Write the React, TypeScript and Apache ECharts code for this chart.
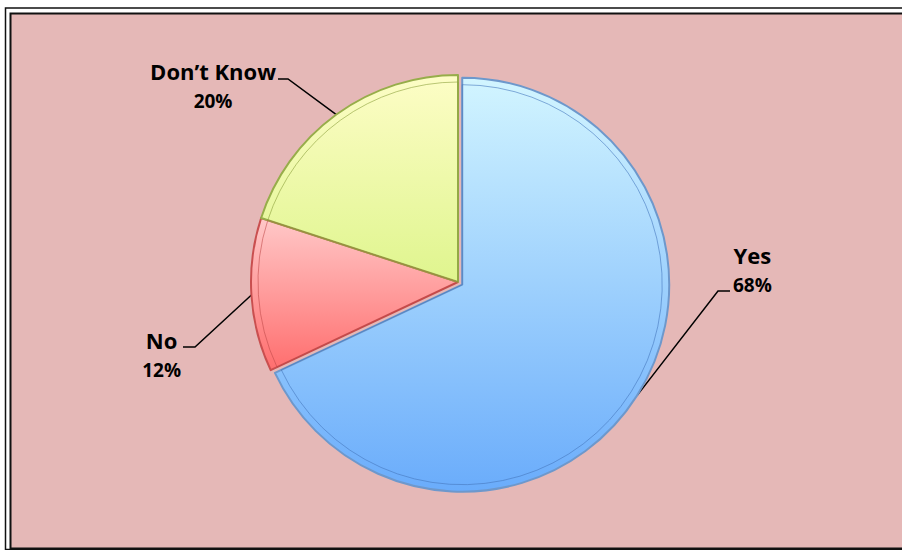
import React, { useEffect, useRef } from 'react';
import * as echarts from 'echarts';

// ---- data ----
const categories = ['Yes', 'No', 'Don’t Know'];
const values = [68, 12, 20];
const explodedCategory = 'Yes';

// ---- styles / layout ----
const FONT = '"Open Sans", "DejaVu Sans", sans-serif';
const CENTER: [number, number] = [458, 282];
const RADIUS = 207;
const EXPLODE = 5;
const START_ANGLE = 90;

const SLICE_STYLE: Record<string, { top: string; bottom: string; border: string; inner: string }> = {
  'Yes': { top: '#d2f5ff', bottom: '#6aacfb', border: '#6d98cc', inner: 'rgba(70,120,190,0.6)' },
  'No': { top: '#ffc8c8', bottom: '#ff6e6e', border: '#c94f4f', inner: 'rgba(190,70,70,0.55)' },
  'Don’t Know': { top: '#fdfdc6', bottom: '#dff58e', border: '#97ad4a', inner: 'rgba(140,160,60,0.6)' },
};

const LABEL_LAYOUT: Record<string, { x: number; y: number; align: string; bend: number[]; end: number[] }> = {
  'Yes': { x: 733, y: 240, align: 'left', bend: [718, 291], end: [730, 291] },
  'No': { x: 181, y: 325, align: 'right', bend: [195, 347], end: [183, 347] },
  'Don’t Know': { x: 276, y: 56, align: 'right', bend: [288, 79], end: [278, 79] },
};

export default function App() {
  const ref = useRef<HTMLDivElement>(null);

  useEffect(() => {
    if (!ref.current) return;
    const chart = echarts.init(ref.current, undefined, { renderer: 'svg' });

    // offset of the exploded slice, along its mid-angle (clockwise from START_ANGLE)
    const total = values.reduce((a, b) => a + b, 0);
    const exIdx = categories.indexOf(explodedCategory);
    const before = values.slice(0, exIdx).reduce((a, b) => a + b, 0);
    const midDeg = START_ANGLE - ((before + values[exIdx] / 2) / total) * 360;
    const midRad = (midDeg * Math.PI) / 180;
    const exCenter: [number, number] = [
      CENTER[0] + EXPLODE * Math.cos(midRad),
      CENTER[1] - EXPLODE * Math.sin(midRad),
    ];

    const textStyleName = {
      fontFamily: FONT,
      fontSize: 22,
      fontWeight: 'bold' as const,
      color: '#000',
      lineHeight: 30,
      align: 'center' as const,
    };
    const textStylePct = { ...textStyleName, fontSize: 19 };

    const hidden = {
      color: 'rgba(0,0,0,0)',
      borderWidth: 0,
    };

    const buildData = (visible: (name: string) => boolean, inner: boolean) =>
      categories.map((name, i) => {
        const s = SLICE_STYLE[name];
        const show = visible(name);
        return {
          name,
          value: values[i],
          itemStyle: !show
            ? hidden
            : inner
            ? { color: 'rgba(0,0,0,0)', borderColor: s.inner, borderWidth: 1 }
            : {
                color: new echarts.graphic.LinearGradient(0, 0, 0, 1, [
                  { offset: 0, color: s.top },
                  { offset: 1, color: s.bottom },
                ]),
                borderColor: s.border,
                borderWidth: 2,
              },
          label: { show: show && !inner },
          labelLine: { show: show && !inner },
        };
      });

    const pieSeries = (center: [number, number], radius: number, visible: (n: string) => boolean, inner: boolean) => ({
      type: 'pie',
      center,
      radius,
      startAngle: START_ANGLE,
      clockwise: true,
      silent: true,
      avoidLabelOverlap: false,
      data: buildData(visible, inner),
      label: {
        show: !inner,
        position: 'outside',
        formatter: (p: any) => `{n|${p.name}}\n{p|${Math.round(p.percent)}%}`,
        rich: { n: textStyleName, p: textStylePct },
      },
      labelLine: {
        show: !inner,
        smooth: false,
        lineStyle: { color: '#000', width: 1.5 },
      },
      labelLayout: inner
        ? undefined
        : (params: any) => {
            const name = categories[params.dataIndex];
            const L = LABEL_LAYOUT[name];
            if (!visible(name)) return {};
            const start = params.labelLinePoints ? params.labelLinePoints[0] : L.bend;
            return {
              x: L.x,
              y: L.y,
              align: L.align,
              verticalAlign: 'top',
              labelLinePoints: [start, L.bend, L.end],
            };
          },
      emphasis: { disabled: true },
    });

    const isRest = (n: string) => n !== explodedCategory;
    const isEx = (n: string) => n === explodedCategory;

    chart.setOption({
      animation: false,
      backgroundColor: '#ffffff',
      graphic: [
        {
          type: 'rect',
          z: -10,
          silent: true,
          shape: { x: 5.5, y: 8, width: 920, height: 541.5 },
          style: { fill: '#ffffff', stroke: '#111', lineWidth: 1.5 },
        },
        {
          type: 'rect',
          z: -9,
          silent: true,
          shape: { x: 10.5, y: 13.5, width: 910, height: 535 },
          style: { fill: '#e5b8b7', stroke: '#111', lineWidth: 2 },
        },
      ],
      series: [
        pieSeries(CENTER, RADIUS, isRest, false),
        pieSeries(exCenter, RADIUS, isEx, false),
        pieSeries(CENTER, RADIUS - 7, isRest, true),
        pieSeries(exCenter, RADIUS - 7, isEx, true),
      ],
    });

    return () => chart.dispose();
  }, []);

  return (
    <div
      ref={ref}
      style={{ position: 'fixed', left: 0, top: 0, width: 902, height: 550 }}
    />
  );
}
